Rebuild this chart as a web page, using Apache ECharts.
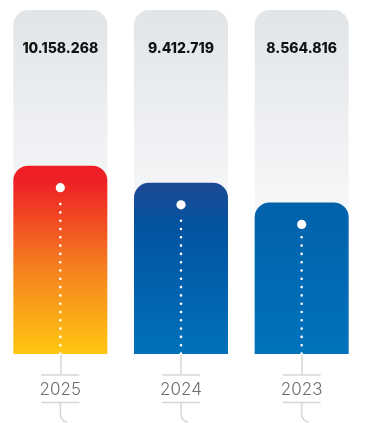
<!DOCTYPE html>
<html><head><meta charset="utf-8">
<script src="https://cdn.jsdelivr.net/npm/echarts@6/dist/echarts.min.js"></script>
<style>html,body{margin:0;padding:0;background:#fff}#c{width:377px;height:423px}</style>
</head><body><div id="c"></div>
<script>
const years = ['2025', '2024', '2023'];
const values = [10158268, 9412719, 8564816];
const valueLabels = ['10.158.268', '9.412.719', '8.564.816'];
const AXIS_MIN = 2000000, AXIS_MAX = 16900000;

const G = echarts.graphic.LinearGradient;
const barGradients = [
  new G(0,0,0,1,[{offset:0,color:'#ee1c26'},{offset:0.1,color:'#ee2325'},{offset:0.55,color:'#f5821f'},{offset:1,color:'#ffc711'}]),
  new G(0,0,0,1,[{offset:0,color:'#1e4994'},{offset:0.25,color:'#0353a0'},{offset:1,color:'#0071bc'}]),
  new G(0,0,0,1,[{offset:0,color:'#0261ab'},{offset:1,color:'#0072bc'}])
];

const chart = echarts.init(document.getElementById('c'));
chart.setOption({
  animation: false,
  grid: {left: -1, right: 15, top: 10, bottom: 69, containLabel: false},
  xAxis: {
    type: 'category', data: years, position: 'bottom',
    axisLine: {show: false},
    axisTick: {show: true, alignWithLabel: true, length: 21, lineStyle: {color: '#d6d6d6', width: 1.5}},
    axisLabel: {margin: 36, verticalAlign: 'middle', color: '#6e6e6e', fontSize: 17, fontFamily: 'Inter', fontWeight: 300}
  },
  yAxis: {type: 'value', min: AXIS_MIN, max: AXIS_MAX, show: false, splitLine: {show: false}},
  series: [{
    type: 'bar', barWidth: 94,
    showBackground: true,
    backgroundStyle: {
      color: new G(0,0,0,1,[{offset:0,color:'#e1e5e8'},{offset:0.45,color:'#f2f3f5'},{offset:0.7,color:'#fafbfb'},{offset:1,color:'#ffffff'}]),
      borderRadius: [15,15,0,0]
    },
    data: values.map((v, i) => ({value: v, itemStyle: {color: barGradients[i], borderRadius: [15,15,0,0]}}))
  }, {
    type: 'custom', clip: false, z: 5,
    data: values.map((v, i) => [i, v]),
    encode: {x: 0, y: 1},
    renderItem: function (params, api) {
      const idx = api.value(0);
      const top = api.coord([idx, api.value(1)]);
      const base = api.coord([idx, AXIS_MIN]);
      const ceil = api.coord([idx, AXIS_MAX]);
      const x = top[0];
      const lineCol = '#d6d6d6';
      return {type: 'group', children: [
        {type: 'text', style: {x: x, y: ceil[1] + 39, text: valueLabels[idx], align: 'center', verticalAlign: 'middle',
          fill: '#111', font: '800 14px Inter'}},
        {type: 'circle', shape: {cx: x, cy: top[1] + 22, r: 4.6}, style: {fill: '#fff'}},
        {type: 'line', shape: {x1: x, y1: base[1] - 0.5, x2: x, y2: top[1] + 32},
          style: {stroke: '#fff', lineWidth: 2.6, lineDash: [0, 8.3], lineCap: 'round'}},
        {type: 'line', shape: {x1: x - 19, y1: base[1] + 21, x2: x + 19, y2: base[1] + 21},
          style: {stroke: lineCol, lineWidth: 1.5}},
        {type: 'line', shape: {x1: x - 19, y1: base[1] + 48.5, x2: x + 19, y2: base[1] + 48.5},
          style: {stroke: lineCol, lineWidth: 1.5}},
        {type: 'line', shape: {x1: x, y1: base[1] + 48.5, x2: x, y2: base[1] + 59},
          style: {stroke: lineCol, lineWidth: 1.5}},
        {type: 'bezierCurve', shape: {x1: x, y1: base[1] + 59, cpx1: x, cpy1: base[1] + 67, x2: x + 7, y2: base[1] + 68},
          style: {stroke: lineCol, lineWidth: 1.5, fill: null}}
      ]};
    }
  }]
});
</script>
</body></html>
